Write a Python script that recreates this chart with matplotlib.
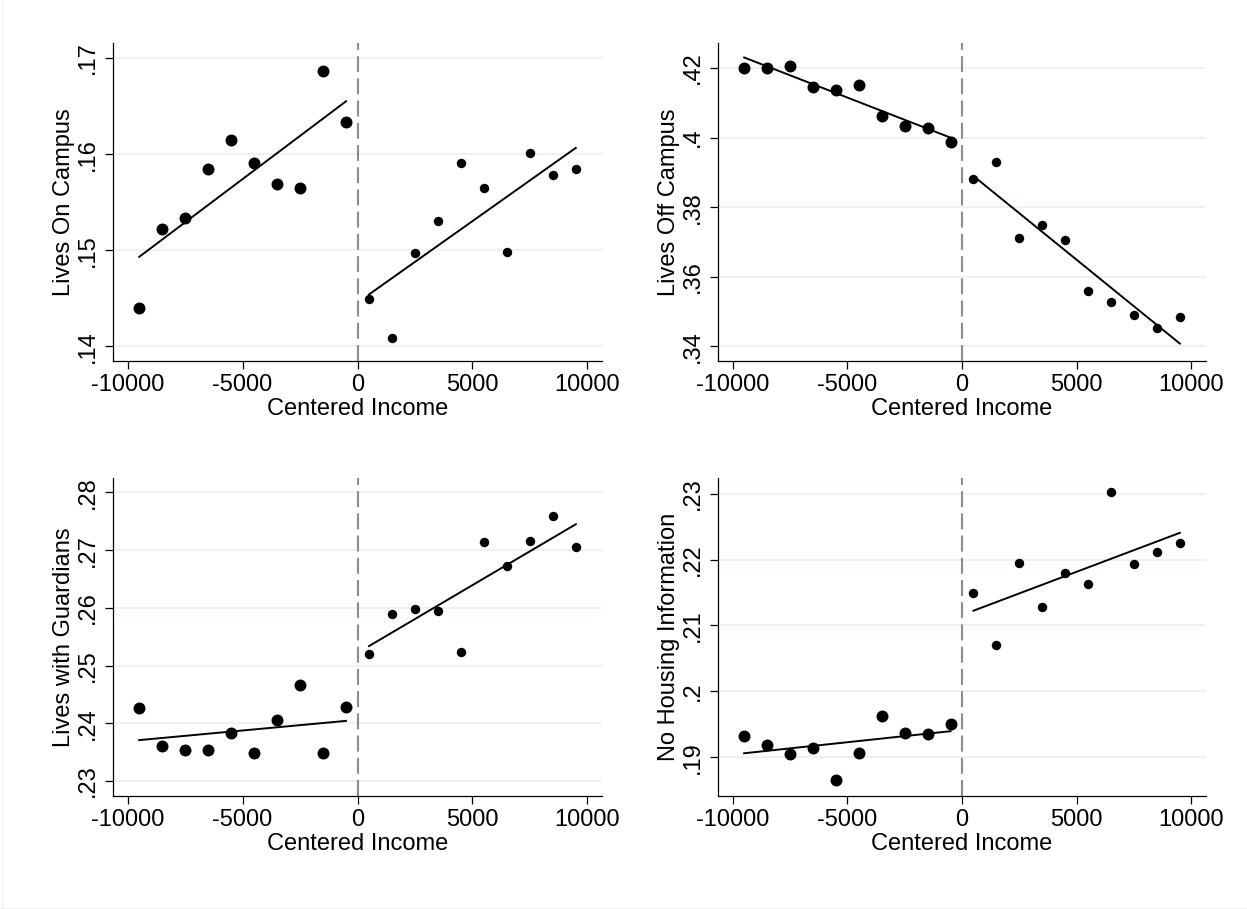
import numpy as np
import matplotlib
matplotlib.use('Agg')
import matplotlib.pyplot as plt
from matplotlib.lines import Line2D

plt.rcParams['font.family'] = ['Liberation Sans', 'DejaVu Sans']
plt.rcParams['lines.scale_dashes'] = False

# income bins (centered income), below and above the cutoff
bins_left = [-9500, -8500, -7500, -6500, -5500, -4500, -3500, -2500, -1500, -500]
bins_right = [500, 1500, 2500, 3500, 4500, 5500, 6500, 7500, 8500, 9500]

on_campus_left = [.1440, .1522, .1534, .1585, .1615, .1591, .1569, .1565, .1686, .1633]
on_campus_right = [.1449, .1409, .1497, .1530, .1591, .1565, .1498, .1601, .1578, .1584]

off_campus_left = [.4200, .4200, .4207, .4145, .4138, .4151, .4062, .4032, .4029, .3987]
off_campus_right = [.3881, .3930, .3710, .3748, .3706, .3559, .3527, .3490, .3452, .3484]

guardians_left = [.2427, .2360, .2354, .2354, .2383, .2349, .2405, .2466, .2349, .2428]
guardians_right = [.2520, .2590, .2598, .2594, .2524, .2714, .2672, .2716, .2759, .2706]

no_info_left = [.1933, .1919, .1905, .1914, .1865, .1907, .1963, .1937, .1935, .1950]
no_info_right = [.2149, .2070, .2195, .2128, .2179, .2163, .2302, .2193, .2211, .2225]

ylabels = ['Lives On Campus', 'Lives Off Campus',
           'Lives with Guardians', 'No Housing Information']

yticks_on = [.14, .15, .16, .17]
yticks_off = [.34, .36, .38, .40, .42]
yticks_guard = [.23, .24, .25, .26, .27, .28]
yticks_none = [.19, .20, .21, .22, .23]

ylabels_on = ['.14', '.15', '.16', '.17']
ylabels_off = ['.34', '.36', '.38', '.4', '.42']
ylabels_guard = ['.23', '.24', '.25', '.26', '.27', '.28']
ylabels_none = ['.19', '.2', '.21', '.22', '.23']

ylims = [(.13847, .17156), (.33578, .42719), (.2274, .2825), (.18412, .23238)]

xticks = [-10000, -5000, 0, 5000, 10000]
xticklabels = ['-10000', '-5000', '0', '5000', '10000']

panels = [
    (on_campus_left, on_campus_right, yticks_on, ylabels_on),
    (off_campus_left, off_campus_right, yticks_off, ylabels_off),
    (guardians_left, guardians_right, yticks_guard, ylabels_guard),
    (no_info_left, no_info_right, yticks_none, ylabels_none),
]

W, H = 1247, 909
fig = plt.figure(figsize=(W / 100, H / 100), dpi=100)
fig.patch.set_facecolor('white')

# axes boxes in pixels: left, top, right, bottom
boxes = [(113, 43, 602, 361), (718, 43, 1206, 361),
         (113, 478, 602, 796), (718, 478, 1206, 796)]

fs = 17
for i, (yl, yr, yt, ytl) in enumerate(panels):
    l, t, r, b = boxes[i]
    ax = fig.add_axes([l / W, 1 - b / H, (r - l) / W, (b - t) / H])
    ax.set_xlim(-10640, 10640)
    ax.set_ylim(*ylims[i])

    for y in yt:
        ax.axhline(y, color='#e9f1f2', lw=1.3, zorder=0)
    ax.axvline(0, color='#8c8c8c', lw=1.5, dashes=(11.5, 4.5), zorder=1)

    ax.plot(bins_left, yl, 'o', color='black', ms=8.6, mew=0, zorder=3)
    ax.plot(bins_right, yr, 'o', color='black', ms=6.8, mew=0, zorder=3)

    xl = np.array(bins_left)
    xr = np.array(bins_right)
    cl = np.polyfit(xl, yl, 1)
    cr = np.polyfit(xr, yr, 1)
    ax.plot(xl[[0, -1]], np.polyval(cl, xl[[0, -1]]), color='black', lw=1.4, zorder=4)
    ax.plot(xr[[0, -1]], np.polyval(cr, xr[[0, -1]]), color='black', lw=1.4, zorder=4)

    ax.set_xticks(xticks)
    ax.set_xticklabels(xticklabels)
    ax.set_yticks(yt)
    ax.set_yticklabels(ytl, rotation=90, va='center')

    for s in ['top', 'right']:
        ax.spines[s].set_visible(False)
    for s in ['left', 'bottom']:
        ax.spines[s].set_linewidth(0.9)
        ax.spines[s].set_color('black')

    ax.tick_params(axis='both', length=6, width=0.9, labelsize=fs, colors='black')
    ax.tick_params(axis='x', pad=3.5)
    ax.tick_params(axis='y', pad=4)
    ax.set_xlabel('Centered Income', fontsize=fs, labelpad=1.5)
    ax.set_ylabel(ylabels[i], fontsize=fs, labelpad=1.5)

# faint outer frame (left and bottom edges)
fig.add_artist(Line2D([1.5 / W, 1.5 / W], [0, 1], transform=fig.transFigure,
                      color='#f0f3f3', lw=1.0))
fig.add_artist(Line2D([0, 1], [1.5 / H, 1.5 / H], transform=fig.transFigure,
                      color='#f0f3f3', lw=1.0))

fig.savefig('out.png', dpi=100)
